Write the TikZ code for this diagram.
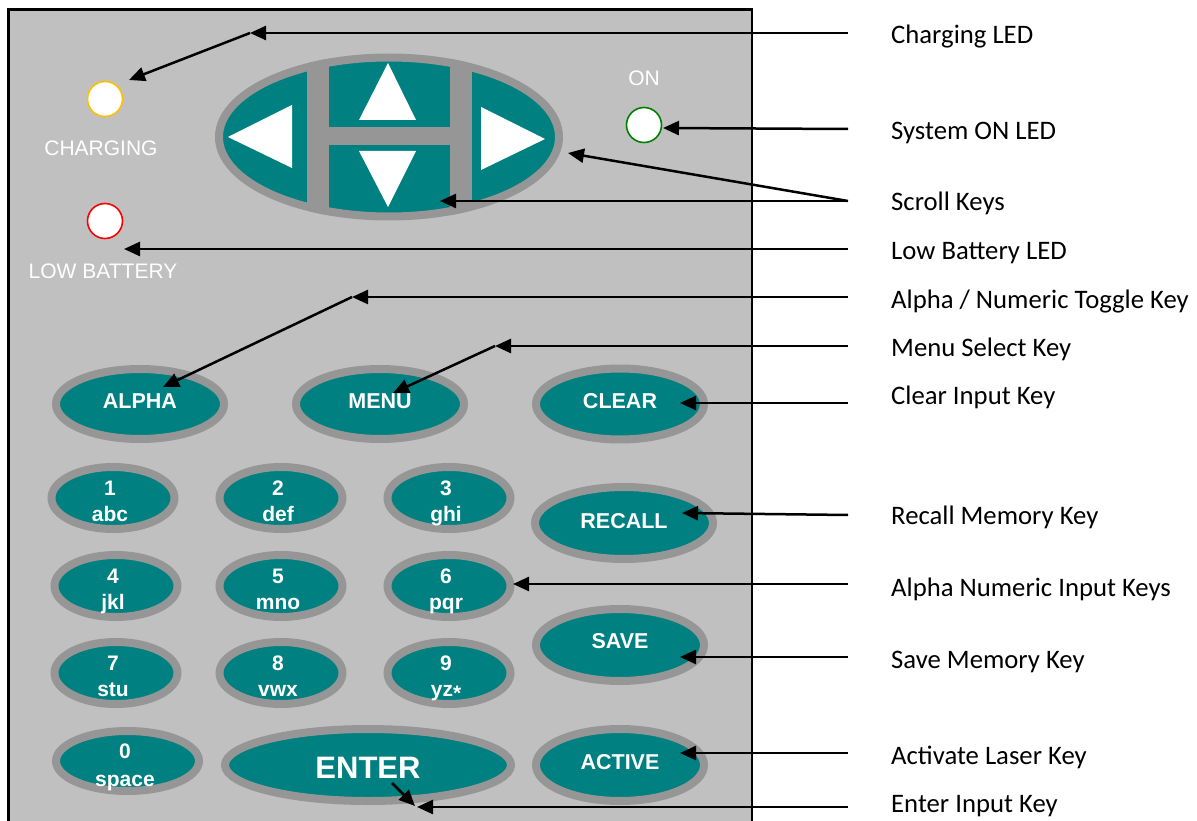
\documentclass[tikz,border=0pt]{standalone}
\usepackage{fontspec}
\setmainfont{Liberation Sans}
\newfontfamily\calloutfont{Carlito}
\usetikzlibrary{arrows.meta,shapes.geometric,calc}
\definecolor{panelgray}{HTML}{C0C0C0}
\definecolor{rimgray}{HTML}{969696}
\definecolor{keyteal}{HTML}{008080}
\definecolor{ledyellow}{HTML}{FFC000}
\definecolor{ledred}{HTML}{FF0000}
\definecolor{ledgreen}{HTML}{008000}
\newcommand\NumKey[5]{%
  \node[keybtn, minimum width=123pt, minimum height=62pt] (#1) at (#2,#3) {};
  \node[keytext] (#1d) at ($(#1.center)+(-3,-3)$) {#4};
  \node[keytext] (#1l) at ($(#1.center)+(-3,23.5)$) {#5};}
\newcommand\FnKey[7]{%
  \node[keybtn, minimum width=#4pt, minimum height=#5pt] (#1) at (#2,#3) {};
  \node[keylbl] (#1t) at ($(#1.center)+(0,#7)$) {#6};}
\begin{document}
\begin{tikzpicture}[x=1pt,y=-1pt,
  keybtn/.style={ellipse, draw=rimgray, line width=8pt, fill=keyteal, inner sep=0pt},
  keylbl/.style={text=white, font=\bfseries\fontsize{21.5}{25}\selectfont, inner sep=0pt},
  ledlamp/.style={circle, fill=white, line width=1.6pt, minimum size=35pt, inner sep=0pt},
  paneltext/.style={text=white, font=\fontsize{21}{25}\selectfont, anchor=base, inner sep=0pt},
  keytext/.style={text=white, font=\bfseries\fontsize{21}{25}\selectfont, anchor=base, inner sep=0pt},
  calloutlbl/.style={anchor=base west, font=\calloutfont\fontsize{26.7}{30}\selectfont, inner sep=0pt},
  leaderline/.style={line width=2.5pt},
  arrowtip/.style={-{Triangle[length=16pt,width=14pt]}}
]
\useasboundingbox (0,0) rectangle (1197,821);
% panel
\fill[panelgray] (8.5,9.5) rectangle (752,840);
\draw[line width=2.5pt] (8.5,840) -- (8.5,9.5) -- (752,9.5) -- (752,840);

% scroll keys
\node[ellipse, draw=rimgray, line width=8pt, fill=keyteal, minimum width=340pt,
      minimum height=159pt, inner sep=0pt] (scroll) at (389,137) {};
\begin{scope}
  \clip (389,137) ellipse [x radius=174, y radius=83.5];
  \fill[rimgray] (307,40) rectangle (329,240);
  \fill[rimgray] (450,40) rectangle (472,240);
  \fill[rimgray] (329,127) rectangle (450,145);
\end{scope}
\fill[white] (228,137) -- (292,105) -- (292,168) -- cycle;
\fill[white] (545,139) -- (481,107) -- (481,170) -- cycle;
\fill[white] (388,63) -- (359,120) -- (416,120) -- cycle;
\fill[white] (388,207) -- (359,151) -- (416,151) -- cycle;

% LEDs
\node[ledlamp, draw=ledyellow] (chg) at (105,99) {};
\node[paneltext] (chgtxt) at (101,156) {CHARGING};
\node[ledlamp, draw=ledred] (lowbat) at (105,221) {};
\node[paneltext] (lowtxt) at (103,278) {LOW BATTERY};
\node[ledlamp, draw=ledgreen] (on) at (644,125) {};
\node[paneltext] (ontxt) at (644,86) {ON};

% function keys
\FnKey{alpha}{140}{404}{168}{70}{ALPHA}{-2.5}
\FnKey{menu}{380}{404}{168}{70}{MENU}{-2.5}
\FnKey{clear}{620}{404}{168}{71}{CLEAR}{-2.5}
\FnKey{recall}{624}{523}{178}{72}{RECALL}{-2}
\FnKey{save}{620}{645}{168}{72}{SAVE}{-3.5}
\FnKey{active}{620}{765}{168}{72}{ACTIVE}{-3}
\node[keybtn, minimum width=286pt, minimum height=72pt] (enter) at (368,765) {};
\node[keylbl, font=\bfseries\fontsize{31}{36}\selectfont] (entert) at (368,768) {ENTER};

% numeric keys
\NumKey{k1}{113}{498}{1}{abc}
\NumKey{k2}{281}{498}{2}{def}
\NumKey{k3}{449}{498}{3}{ghi}
\NumKey{k4}{116}{586}{4}{jkl}
\NumKey{k5}{281}{586}{5}{mno}
\NumKey{k6}{449}{586}{6}{pqr}
\NumKey{k7}{116}{673}{7}{stu}
\NumKey{k8}{281}{673}{8}{vwx}
\NumKey{k9}{449}{673}{9}{yz\raisebox{-0.35ex}{*}}
\node[keybtn, minimum width=143pt, minimum height=60pt] (k0) at (127.5,761) {};
\node[keytext] (k0d) at (125,758) {0};
\node[keytext] (k0l) at (125,786) {space};

% callout labels
\node[calloutlbl] (lchg) at (891,44) {Charging LED};
\node[calloutlbl] (lon) at (891,140) {System ON LED};
\node[calloutlbl] (lscroll) at (891,211) {Scroll Keys};
\node[calloutlbl] (llow) at (891,259) {Low Battery LED};
\node[calloutlbl] (lalpha) at (891,308) {Alpha / Numeric Toggle Key};
\node[calloutlbl] (lmenu) at (891,356) {Menu Select Key};
\node[calloutlbl] (lclear) at (891,404) {Clear Input Key};
\node[calloutlbl] (lrecall) at (891,524) {Recall Memory Key};
\node[calloutlbl] (lnum) at (891,596) {Alpha Numeric Input Keys};
\node[calloutlbl] (lsave) at (891,668) {Save Memory Key};
\node[calloutlbl] (lactive) at (891,764) {Activate Laser Key};
\node[calloutlbl] (lenter) at (891,812) {Enter Input Key};

% leader coordinates
\coordinate (rchg) at (848,33);   \coordinate (chgbend) at (250,33);  \coordinate (chgtip) at (129,80);
\coordinate (ron) at (848,129);   \coordinate (ontip) at (663,128);
\coordinate (rscroll) at (848,201); \coordinate (scrolltipa) at (568,153); \coordinate (scrolltipb) at (440,201);
\coordinate (rlow) at (848,249);  \coordinate (lowtip) at (124,249);
\coordinate (ralpha) at (848,297); \coordinate (alphabend) at (352,297); \coordinate (alphatip) at (163,387);
\coordinate (rmenu) at (848,346); \coordinate (menubend) at (495,346); \coordinate (menutip) at (393,393);
\coordinate (rclear) at (848,403); \coordinate (cleartip) at (680,403);
\coordinate (rrecall) at (848,515); \coordinate (recalltip) at (682,513);
\coordinate (rnum) at (848,584); \coordinate (numtip) at (513,584);
\coordinate (rsave) at (848,657); \coordinate (savetip) at (680,657);
\coordinate (ractive) at (848,753); \coordinate (activetip) at (680,753);
\coordinate (renter) at (848,807); \coordinate (entertip) at (417,807);
\coordinate (entertail) at (392,783); \coordinate (entertipb) at (415,806);

\draw[leaderline,arrowtip] (rchg) -- (chgbend);
\draw[leaderline,arrowtip] (chgbend) -- (chgtip);
\draw[leaderline,arrowtip] (ron) -- (ontip);
\draw[leaderline,arrowtip] (rscroll) -- (scrolltipa);
\draw[leaderline,arrowtip] (rscroll) -- (scrolltipb);
\draw[leaderline,arrowtip] (rlow) -- (lowtip);
\draw[leaderline,arrowtip] (ralpha) -- (alphabend);
\draw[leaderline,arrowtip] (alphabend) -- (alphatip);
\draw[leaderline,arrowtip] (rmenu) -- (menubend);
\draw[leaderline,arrowtip] (menubend) -- (menutip);
\draw[leaderline,arrowtip] (rclear) -- (cleartip);
\draw[leaderline,arrowtip] (rrecall) -- (recalltip);
\draw[leaderline,arrowtip] (rnum) -- (numtip);
\draw[leaderline,arrowtip] (rsave) -- (savetip);
\draw[leaderline,arrowtip] (ractive) -- (activetip);
\draw[leaderline,arrowtip] (renter) -- (entertip);
\draw[leaderline,arrowtip] (entertail) -- (entertipb);
\end{tikzpicture}
\end{document}
